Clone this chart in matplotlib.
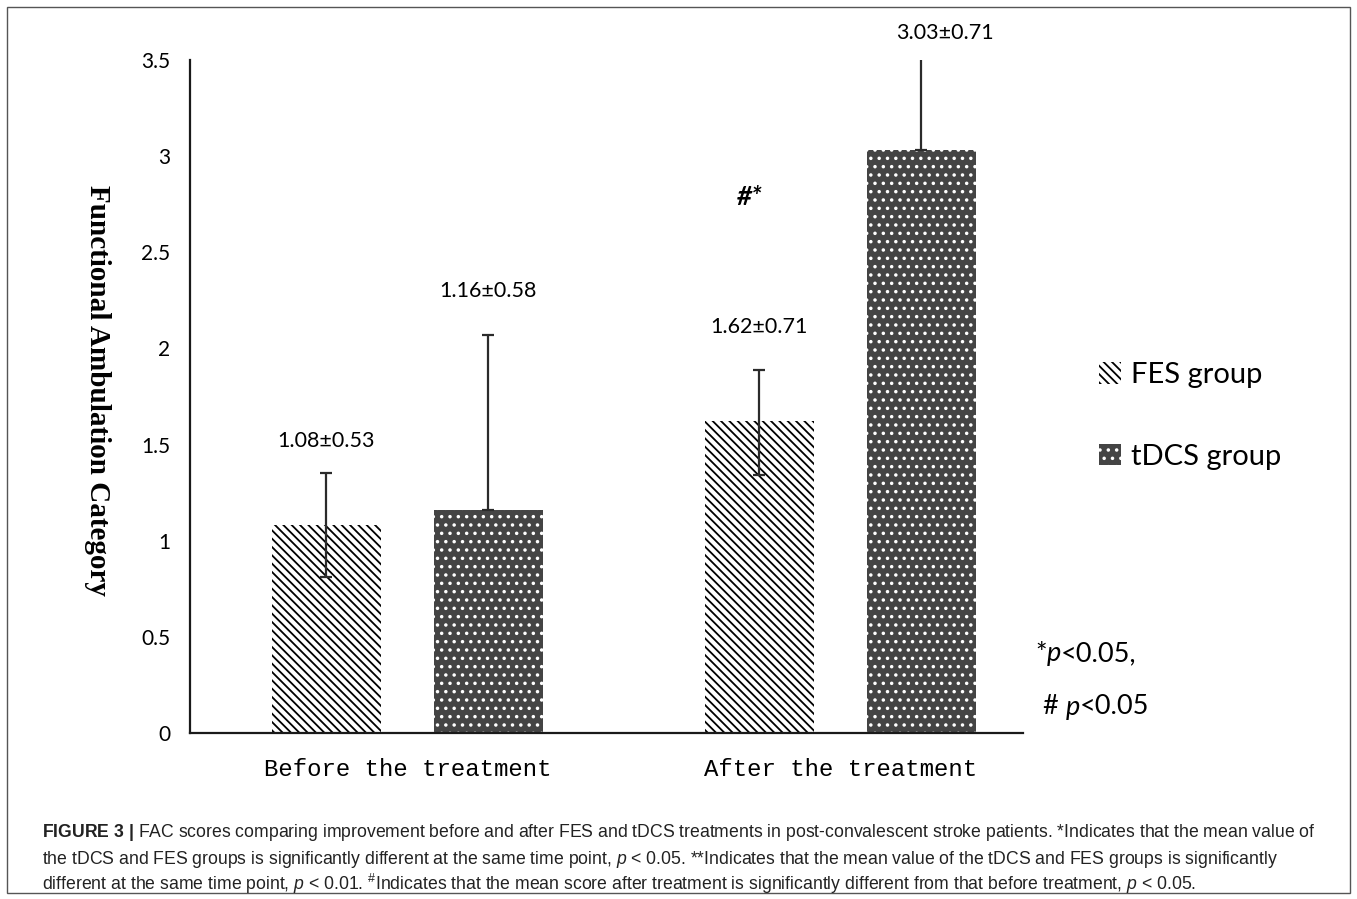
import matplotlib
matplotlib.use("Agg")
import matplotlib.pyplot as plt
from matplotlib import font_manager
from matplotlib.patches import Patch, Rectangle
import numpy as np

groups = ["Before the treatment", "After the treatment"]
series = ["FES group", "tDCS group"]
fes_mean = [1.08, 1.62]
tdcs_mean = [1.16, 3.03]
fes_err_low = [0.27, 0.28]
fes_err_high = [0.27, 0.27]
tdcs_err_low = [0.0, 0.0]
tdcs_err_high = [0.91, 0.49]
fes_labels = ["1.08±0.53", "1.62±0.71"]
tdcs_labels = ["1.16±0.58", "3.03±0.71"]
yticks = [0, 0.5, 1, 1.5, 2, 2.5, 3, 3.5]
ytick_labels = ["0", "0.5", "1", "1.5", "2", "2.5", "3", "3.5"]

# caption font: narrow Helvetica look if available
try:
    font_manager.findfont("Liberation Sans Narrow", fallback_to_default=False)
    cap_font, cap_size = "Liberation Sans Narrow", 15
except ValueError:
    cap_font, cap_size = "Liberation Sans", 12.7

plt.rcParams["hatch.linewidth"] = 1.3
plt.rcParams["mathtext.fontset"] = "custom"
plt.rcParams["mathtext.rm"] = cap_font
plt.rcParams["mathtext.it"] = cap_font + ":italic"
plt.rcParams["mathtext.bf"] = cap_font + ":bold"

W, H = 1357, 899
fig = plt.figure(figsize=(W / 100, H / 100), dpi=100)
ax = fig.add_axes([190 / W, 1 - 733 / H, (1023 - 190) / W, (733 - 60) / H])

x = np.arange(len(groups))
off = 0.187
w = 0.252
fes_color = "white"
tdcs_color = "#444444"
fes_hatch = "\\" * 4
tdcs_hatch = ".."

ax.bar(x - off, fes_mean, w, color=fes_color, edgecolor="black", linewidth=0, hatch=fes_hatch)
ax.bar(x + off, tdcs_mean, w, color=tdcs_color, edgecolor="white", linewidth=0, hatch=tdcs_hatch)
ax.errorbar(x - off, fes_mean, yerr=[fes_err_low, fes_err_high], fmt="none",
            ecolor="#2b2b2b", elinewidth=1.6, capsize=4, capthick=1.6)
ax.errorbar(x + off, tdcs_mean, yerr=[tdcs_err_low, tdcs_err_high], fmt="none",
            ecolor="#2b2b2b", elinewidth=1.6, capsize=4, capthick=1.6)

# value labels above the bars
fes_label_y = [1.52, 2.11]
tdcs_label_y = [2.30, 3.64]
tdcs_label_dx = [0.0, 0.055]
lab_kw = dict(ha="center", va="center", fontsize=15.5, family="Lato", clip_on=False)
for i in range(len(groups)):
    ax.text(x[i] - off, fes_label_y[i], fes_labels[i], **lab_kw)
    ax.text(x[i] + off + tdcs_label_dx[i], tdcs_label_y[i], tdcs_labels[i], **lab_kw)

ax.set_xlim(-0.502, 1.4215)
ax.set_ylim(0, 3.5)
ax.set_yticks(yticks)
ax.set_yticklabels(ytick_labels, family="Lato", fontsize=15)
ax.set_xticks(x)
ax.set_xticklabels(groups, family="Liberation Mono", fontsize=17.3)
ax.tick_params(axis="y", length=0, pad=14)
ax.tick_params(axis="x", length=0, pad=18)
for s in ["top", "right"]:
    ax.spines[s].set_visible(False)
for s in ["left", "bottom"]:
    ax.spines[s].set_linewidth(1.6)
    ax.spines[s].set_color("#1a1a1a")

fig.text(97 / W, 1 - 390 / H, "Functional Ambulation Category", rotation=270,
         family="Liberation Serif", weight="bold", fontsize=21, ha="center", va="center")

fig.text(750 / W, 1 - 197 / H, "#*", family="Lato", weight="bold", style="italic",
         fontsize=19, ha="center", va="center")

handles = [Patch(facecolor=fes_color, edgecolor="black", hatch=fes_hatch, linewidth=0),
           Patch(facecolor=tdcs_color, edgecolor="white", hatch=tdcs_hatch, linewidth=0)]
fig.legend(handles, series, loc="center left", bbox_to_anchor=(1099 / W, 1 - 416 / H),
           frameon=False, prop={"family": "Lato", "size": 21}, handlelength=0.75,
           handleheight=0.75, handletextpad=0.35, labelspacing=1.9, borderpad=0,
           borderaxespad=0)

# significance notes, italic p chained after the symbol
note_kw = dict(family="Lato", fontsize=19.5)
for left, yc, sym, rest in [(1035, 654, "*", "<0.05,"), (1043, 707, "# ", "<0.05")]:
    t1 = fig.text(left / W, 1 - yc / H, sym, va="center", ha="left", **note_kw)
    t2 = ax.annotate("p", xy=(1, 0), xycoords=t1, va="bottom", ha="left",
                     style="italic", annotation_clip=False, **note_kw)
    ax.annotate(rest, xy=(1, 0), xycoords=t2, va="bottom", ha="left",
                annotation_clip=False, **note_kw)

caption = [
    r"$\mathbf{FIGURE\ 3\ |}$ FAC scores comparing improvement before and after FES and tDCS treatments in post-convalescent stroke patients. *Indicates that the mean value of",
    r"the tDCS and FES groups is significantly different at the same time point, $p$ < 0.05. **Indicates that the mean value of the tDCS and FES groups is significantly",
    r"different at the same time point, $p$ < 0.01. $^{\#}$Indicates that the mean score after treatment is significantly different from that before treatment, $p$ < 0.05.",
]
for i, line in enumerate(caption):
    fig.text(42 / W, 1 - (837 + 26.5 * i) / H, line, family=cap_font, fontsize=cap_size,
             ha="left", va="baseline", color="#222222")

fig.patches.append(Rectangle((7 / W, 1 - 893 / H), (1350 - 7) / W, (893 - 7) / H,
                             transform=fig.transFigure, fill=False, edgecolor="#555555",
                             linewidth=1.0))

fig.savefig("out.png", dpi=100)
